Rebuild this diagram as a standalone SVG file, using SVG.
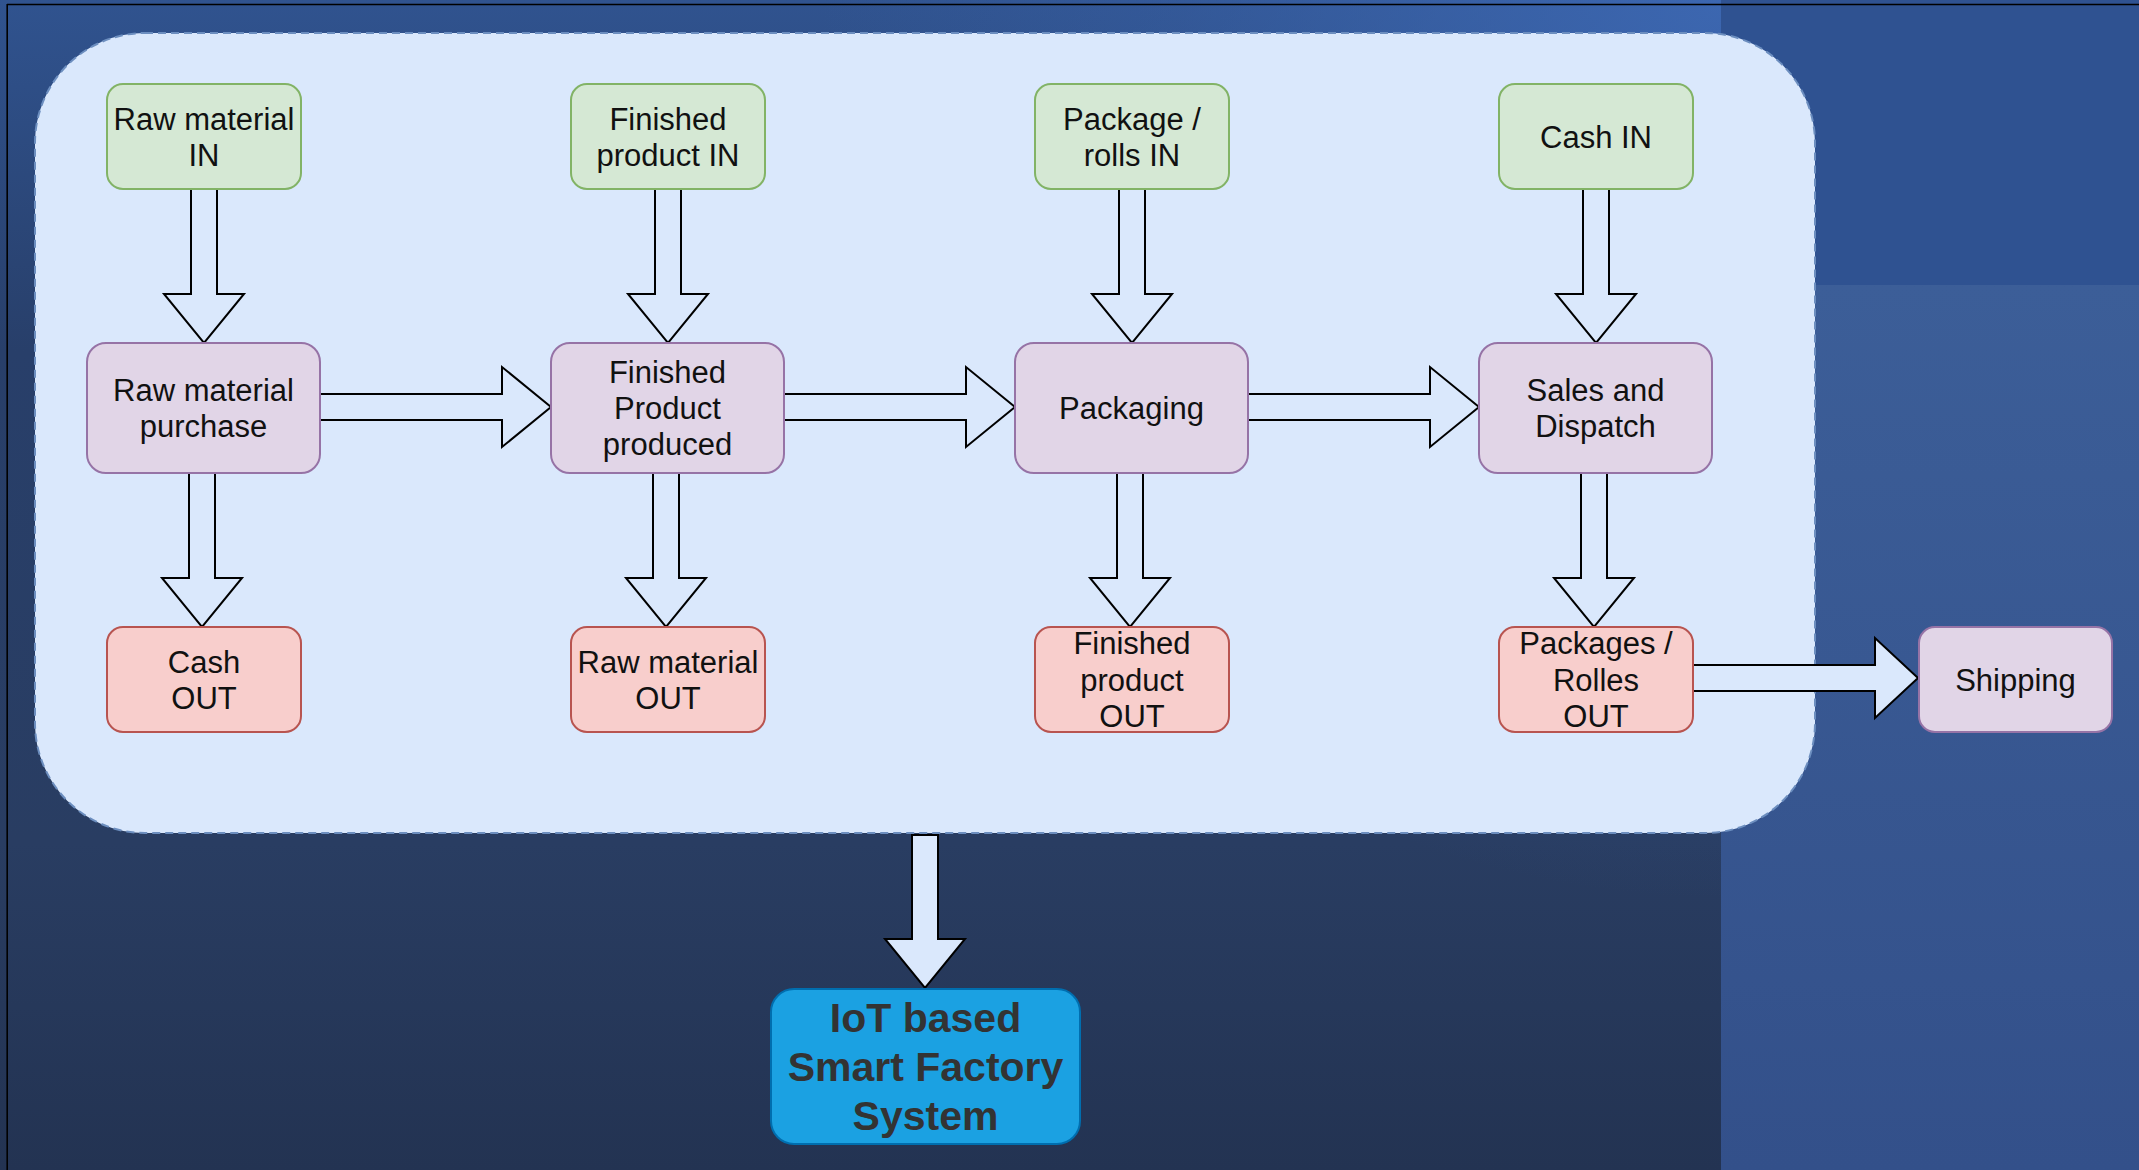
<svg xmlns="http://www.w3.org/2000/svg" width="2139" height="1170" viewBox="0 0 2139 1170">
<defs>
<linearGradient id="bgMain" x1="0" y1="0" x2="0" y2="1170" gradientUnits="userSpaceOnUse">
<stop offset="0" stop-color="#30538f"/>
<stop offset="0.3" stop-color="#283f6a"/>
<stop offset="0.72" stop-color="#293d62"/>
<stop offset="1" stop-color="#233352"/>
</linearGradient>
<radialGradient id="glow" cx="1720" cy="0" r="900" gradientUnits="userSpaceOnUse">
<stop offset="0" stop-color="#3e6ab6" stop-opacity="0.85"/>
<stop offset="0.6" stop-color="#3e6ab6" stop-opacity="0.25"/>
<stop offset="1" stop-color="#3e6ab6" stop-opacity="0"/>
</radialGradient>
<linearGradient id="bgRight" x1="0" y1="285" x2="0" y2="1170" gradientUnits="userSpaceOnUse">
<stop offset="0" stop-color="#3c5e98"/>
<stop offset="1" stop-color="#33508a"/>
</linearGradient>
<style>
.lbl{font-family:"Liberation Sans",Arial,Helvetica,sans-serif;font-size:31px;fill:#111111;text-anchor:middle}
.green{fill:#d5e8d4;stroke:#82b366;stroke-width:2}
.purple{fill:#e1d5e7;stroke:#9673a6;stroke-width:2}
.red{fill:#f8cecc;stroke:#b85450;stroke-width:2}
.arrow{fill:#dae8fc;stroke:#000000;stroke-width:2;stroke-linejoin:miter}
.iot{fill:#1ba1e2;stroke:#006eaf;stroke-width:2}
.iotlbl{font-family:"Liberation Sans",Arial,Helvetica,sans-serif;font-size:41px;font-weight:bold;fill:#333333;text-anchor:middle}
</style>
</defs>

<!-- background -->
<rect x="0" y="0" width="2139" height="1170" fill="url(#bgMain)"/>
<rect x="0" y="0" width="1721" height="1170" fill="url(#glow)"/>
<rect x="1721" y="0" width="418" height="285" fill="#2f5291"/>
<rect x="1721" y="285" width="418" height="885" fill="url(#bgRight)"/>
<line x1="7" y1="4.5" x2="2139" y2="4.5" stroke="#000" stroke-width="1.6"/>
<line x1="7.2" y1="4" x2="7.2" y2="1170" stroke="#000" stroke-width="1.6"/>

<!-- container -->
<g id="container">
<rect x="35" y="33" width="1780" height="800" rx="110" ry="110" fill="#dae8fc" stroke="#6c8ebf" stroke-width="2" stroke-dasharray="8 5"/>
</g>

<!-- connectors -->
<g id="connectors">
<path class="arrow" d="M191,189 H217 V294 H244 L204,343 L164,294 H191 Z"/>
<path class="arrow" d="M655,189 H681 V294 H708 L668,343 L628,294 H655 Z"/>
<path class="arrow" d="M1119,189 H1145 V294 H1172 L1132,343 L1092,294 H1119 Z"/>
<path class="arrow" d="M1583,189 H1609 V294 H1636 L1596,343 L1556,294 H1583 Z"/>

<path class="arrow" d="M189,473 H215 V578 H242 L202,627 L162,578 H189 Z"/>
<path class="arrow" d="M653,473 H679 V578 H706 L666,627 L626,578 H653 Z"/>
<path class="arrow" d="M1117,473 H1143 V578 H1170 L1130,627 L1090,578 H1117 Z"/>
<path class="arrow" d="M1581,473 H1607 V578 H1634 L1594,627 L1554,578 H1581 Z"/>

<path class="arrow" d="M320,394 V420 H502 V447 L551,407 L502,367 V394 Z"/>
<path class="arrow" d="M784,394 V420 H966 V447 L1015,407 L966,367 V394 Z"/>
<path class="arrow" d="M1248,394 V420 H1430 V447 L1479,407 L1430,367 V394 Z"/>

<path class="arrow" d="M1693,665 V691 H1875 V718 L1918,678 L1875,638 V665 Z"/>

<path class="arrow" d="M912,835 H938 V939 H965 L925,988 L885,939 H912 Z"/>
</g>

<!-- top row -->
<g id="raw-material-in">
<rect class="green" x="107" y="84" width="194" height="105" rx="16"/>
<text class="lbl" x="204" y="130">Raw material</text>
<text class="lbl" x="204" y="166">IN</text>
</g>
<g id="finished-product-in">
<rect class="green" x="571" y="84" width="194" height="105" rx="16"/>
<text class="lbl" x="668" y="130">Finished</text>
<text class="lbl" x="668" y="166">product IN</text>
</g>
<g id="package-rolls-in">
<rect class="green" x="1035" y="84" width="194" height="105" rx="16"/>
<text class="lbl" x="1132" y="130">Package /</text>
<text class="lbl" x="1132" y="166">rolls IN</text>
</g>
<g id="cash-in">
<rect class="green" x="1499" y="84" width="194" height="105" rx="16"/>
<text class="lbl" x="1596" y="148">Cash IN</text>
</g>

<!-- middle row -->
<g id="raw-material-purchase">
<rect class="purple" x="87" y="343" width="233" height="130" rx="19"/>
<text class="lbl" x="203.5" y="401">Raw material</text>
<text class="lbl" x="203.5" y="437">purchase</text>
</g>
<g id="finished-product-produced">
<rect class="purple" x="551" y="343" width="233" height="130" rx="19"/>
<text class="lbl" x="667.5" y="383">Finished</text>
<text class="lbl" x="667.5" y="419">Product</text>
<text class="lbl" x="667.5" y="455">produced</text>
</g>
<g id="packaging">
<rect class="purple" x="1015" y="343" width="233" height="130" rx="19"/>
<text class="lbl" x="1131.5" y="419">Packaging</text>
</g>
<g id="sales-dispatch">
<rect class="purple" x="1479" y="343" width="233" height="130" rx="19"/>
<text class="lbl" x="1595.5" y="401">Sales and</text>
<text class="lbl" x="1595.5" y="437">Dispatch</text>
</g>

<!-- bottom row -->
<g id="cash-out">
<rect class="red" x="107" y="627" width="194" height="105" rx="16"/>
<text class="lbl" x="204" y="673">Cash</text>
<text class="lbl" x="204" y="709">OUT</text>
</g>
<g id="raw-material-out">
<rect class="red" x="571" y="627" width="194" height="105" rx="16"/>
<text class="lbl" x="668" y="673">Raw material</text>
<text class="lbl" x="668" y="709">OUT</text>
</g>
<g id="finished-product-out">
<rect class="red" x="1035" y="627" width="194" height="105" rx="16"/>
<text class="lbl" x="1132" y="654">Finished</text>
<text class="lbl" x="1132" y="691">product</text>
<text class="lbl" x="1132" y="727">OUT</text>
</g>
<g id="packages-rolles-out">
<rect class="red" x="1499" y="627" width="194" height="105" rx="16"/>
<text class="lbl" x="1596" y="654">Packages /</text>
<text class="lbl" x="1596" y="691">Rolles</text>
<text class="lbl" x="1596" y="727">OUT</text>
</g>
<g id="shipping">
<rect class="purple" x="1919" y="627" width="193" height="105" rx="16"/>
<text class="lbl" x="2015.5" y="691">Shipping</text>
</g>

<!-- IoT -->
<g id="iot-system">
<rect class="iot" x="771" y="989" width="309" height="155" rx="23"/>
<text class="iotlbl" x="925.5" y="1032">IoT based</text>
<text class="iotlbl" x="925.5" y="1081">Smart Factory</text>
<text class="iotlbl" x="925.5" y="1130">System</text>
</g>
</svg>
